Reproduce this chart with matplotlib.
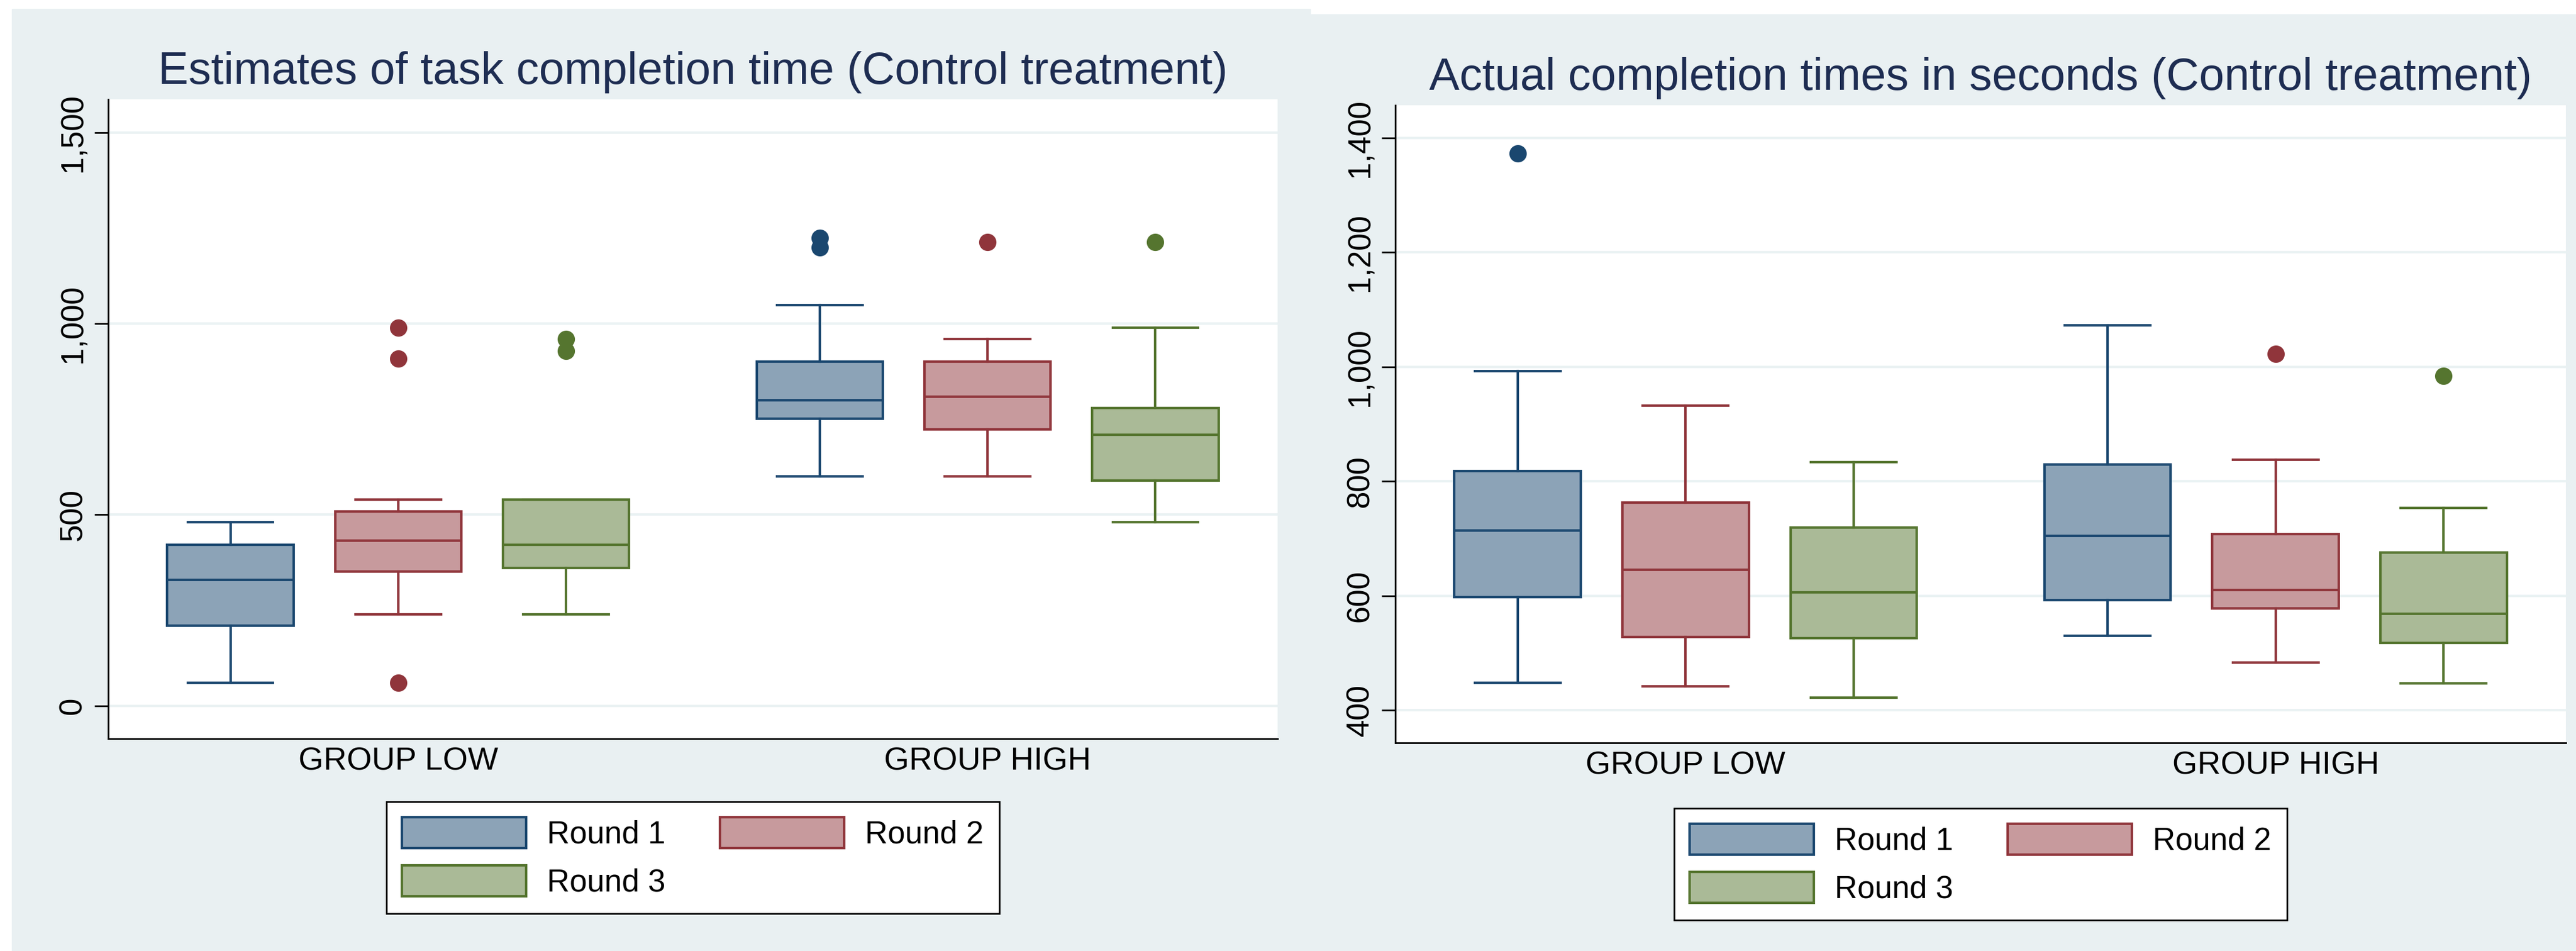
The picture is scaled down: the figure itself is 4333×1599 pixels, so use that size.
import matplotlib.pyplot as plt
from matplotlib.patches import Patch, Rectangle

plt.rcParams['font.family'] = ['Liberation Sans', 'DejaVu Sans']

# categories
groups = ['GROUP LOW', 'GROUP HIGH']
rounds = ['Round 1', 'Round 2', 'Round 3']

# box order: LOW R1, LOW R2, LOW R3, HIGH R1, HIGH R2, HIGH R3
# Estimates of task completion time
est_whislo = [60, 240, 240, 600, 600, 481]
est_q1 = [210, 351, 360, 751, 724, 590]
est_med = [330, 432, 421, 800, 809, 709]
est_q3 = [421, 509, 540, 900, 900, 779]
est_whishi = [481, 540, 540, 1049, 960, 989]
est_fliers = [[], [60, 909, 989], [929, 960], [1200, 1225], [1214], [1214]]

# Actual completion times in seconds
act_whislo = [448, 442, 422, 530, 483, 447]
act_q1 = [598, 528, 526, 592, 578, 518]
act_med = [714, 645, 606, 705, 610, 569]
act_q3 = [818, 763, 719, 829, 708, 676]
act_whishi = [993, 932, 834, 1073, 838, 753]
act_fliers = [[1373], [], [], [], [1023], [984]]

est_ticks = [0, 500, 1000, 1500]
act_ticks = [400, 600, 800, 1000, 1200, 1400]

edge_cols = ['#1a476f', '#90353b', '#55752f']
fill_cols = ['#8ca3b7', '#c79a9d', '#aaba97']
bg = '#e9f0f2'
navy = '#1e2d52'

W, H = 4333, 1599
fig = plt.figure(figsize=(W / 100, H / 100), dpi=100, facecolor='white')
fig.patches.append(Rectangle((20 / W, 0), (2204 - 20) / W, 1 - 15 / H,
                             transform=fig.transFigure, color=bg, zorder=-10))
fig.patches.append(Rectangle((2204 / W, 0), (W - 2204) / W, 1 - 24 / H,
                             transform=fig.transFigure, color=bg, zorder=-10))


def make_stats(lo, q1, med, q3, hi, fl):
    return [dict(whislo=lo[i], q1=q1[i], med=med[i], q3=q3[i], whishi=hi[i], fliers=fl[i])
            for i in range(len(med))]


def draw_panel(rect, stats, ylim, yticks, title, leg_y):
    ax = fig.add_axes(rect)
    ax.set_facecolor('white')
    centers = [0.248, 0.752]
    off = 0.1435
    pos = [c + k * off for c in centers for k in (-1, 0, 1)]
    res = ax.bxp(stats, positions=pos, widths=0.108, capwidths=0.073,
                 patch_artist=True, showfliers=True, manage_ticks=False)
    for i in range(len(stats)):
        ec = edge_cols[i % 3]
        fc = fill_cols[i % 3]
        res['boxes'][i].set(facecolor=fc, edgecolor=ec, linewidth=3)
        res['medians'][i].set(color=ec, linewidth=3)
        for ln in res['whiskers'][2 * i:2 * i + 2] + res['caps'][2 * i:2 * i + 2]:
            ln.set(color=ec, linewidth=3)
        res['fliers'][i].set(marker='o', markerfacecolor=ec, markeredgewidth=0,
                             markersize=21, linestyle='none')
    ax.set_xlim(0, 1)
    ax.set_ylim(*ylim)
    ax.set_xticks(centers, groups)
    ax.tick_params(axis='x', length=0, pad=10, labelsize=39)
    ax.set_yticks(yticks, ['{:,}'.format(t) for t in yticks])
    ax.tick_params(axis='y', length=16.5, width=2, pad=8, labelsize=38)
    plt.setp(ax.get_yticklabels(), rotation=90, va='center')
    ax.yaxis.grid(True, color='#eaf2f3', linewidth=3)
    ax.set_axisbelow(True)
    for s in ['top', 'right']:
        ax.spines[s].set_visible(False)
    for s in ['left', 'bottom']:
        ax.spines[s].set_linewidth(2)
        ax.spines[s].set_color('black')
    ax.set_title(title, fontsize=55, color=navy, pad=19)

    handles = [Patch(facecolor=fill_cols[k], edgecolor=edge_cols[k], linewidth=3) for k in range(3)]
    order = [0, 2, 1]
    leg = ax.legend([handles[k] for k in order], [rounds[k] for k in order], ncol=2,
                    loc='upper center', bbox_to_anchor=(0.5, leg_y), fontsize=38,
                    handlelength=3.96, handleheight=1.12, handletextpad=0.66,
                    columnspacing=1.74, labelspacing=0.5, borderpad=0.5,
                    borderaxespad=0, fancybox=False, framealpha=1,
                    edgecolor='black', facecolor='white')
    leg.get_frame().set_linewidth(2)
    return ax


est_stats = make_stats(est_whislo, est_q1, est_med, est_q3, est_whishi, est_fliers)
act_stats = make_stats(act_whislo, act_q1, act_med, act_q3, act_whishi, act_fliers)

draw_panel([182 / W, 1 - 1242 / H, (2149 - 182) / W, (1242 - 167) / H], est_stats,
           (-86, 1587), est_ticks,
           'Estimates of task completion time (Control treatment)', -0.0986)
draw_panel([2347 / W, 1 - 1249 / H, (4316 - 2347) / W, (1249 - 177) / H], act_stats,
           (343, 1457), act_ticks,
           'Actual completion times in seconds (Control treatment)', -0.1026)

fig.savefig('out.png', dpi=100, facecolor='white')
